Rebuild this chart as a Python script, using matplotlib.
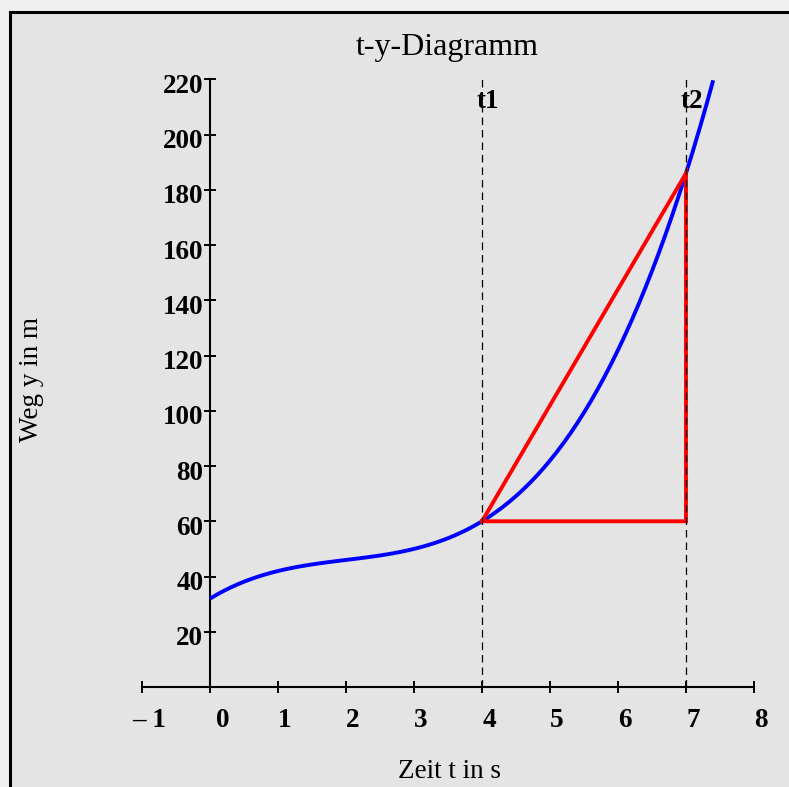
import matplotlib
matplotlib.use("Agg")
import matplotlib.pyplot as plt
import matplotlib.patches as mpatches
import matplotlib.transforms as mtransforms

# Weg-Zeit data of the moving body (t in s, y in m)
t_values = [0.0, 0.1, 0.2, 0.3, 0.4, 0.5, 0.6, 0.7, 0.8, 0.9,
            1.0, 1.1, 1.2, 1.3, 1.4, 1.5, 1.6, 1.7, 1.8, 1.9,
            2.0, 2.1, 2.2, 2.3, 2.4, 2.5, 2.6, 2.7, 2.8, 2.9,
            3.0, 3.1, 3.2, 3.3, 3.4, 3.5, 3.6, 3.7, 3.8, 3.9,
            4.0, 4.1, 4.2, 4.3, 4.4, 4.5, 4.6, 4.7, 4.8, 4.9,
            5.0, 5.1, 5.2, 5.3, 5.4, 5.5, 5.6, 5.7, 5.8, 5.9,
            6.0, 6.1, 6.2, 6.3, 6.4, 6.5, 6.6, 6.7, 6.8, 6.9,
            7.0, 7.1, 7.2, 7.3, 7.4]
y_values = [32.000, 33.441, 34.768, 35.987, 37.104, 38.125, 39.056, 39.903, 40.672, 41.369,
            42.000, 42.571, 43.088, 43.557, 43.984, 44.375, 44.736, 45.073, 45.392, 45.699,
            46.000, 46.301, 46.608, 46.927, 47.264, 47.625, 48.016, 48.443, 48.912, 49.429,
            50.000, 50.631, 51.328, 52.097, 52.944, 53.875, 54.896, 56.013, 57.232, 58.559,
            60.000, 61.561, 63.248, 65.067, 67.024, 69.125, 71.376, 73.783, 76.352, 79.089,
            82.000, 85.091, 88.368, 91.837, 95.504, 99.375, 103.456, 107.753, 112.272, 117.019,
            122.000, 127.221, 132.688, 138.407, 144.384, 150.625, 157.136, 163.923, 170.992, 178.349,
            186.000, 193.951, 202.208, 210.777, 219.664]

# Secant triangle between t1 and t2
t1, y1 = 4.0, 60.0
t2, y2 = 7.0, 186.0
marker_labels = ["t1", "t2"]

x_ticks = [-1, 0, 1, 2, 3, 4, 5, 6, 7, 8]
x_ticklabels = ["\u2013 1", "0", "1", "2", "3", "4", "5", "6", "7", "8"]
y_ticks = [20, 40, 60, 80, 100, 120, 140, 160, 180, 200, 220]

W, H = 789, 787
fig = plt.figure(figsize=(W / 100, H / 100), dpi=100, facecolor="#f0f0f0")
serif = ["Liberation Serif", "DejaVu Serif"]

# grey panel with black frame
frame = mpatches.Rectangle((9.5 / W, -0.05), 1.2, (H - 12) / H + 0.05,
                           transform=fig.transFigure, facecolor="#e4e4e4",
                           edgecolor="black", linewidth=2.2, zorder=0)
fig.add_artist(frame)

ax = fig.add_axes([0, 0, 1, 1])
ax.set_facecolor("none")
px_per_t = 68.0
px_per_y = 2.762
ax.set_xlim(-210 / px_per_t, (W - 210) / px_per_t)
ax.set_ylim((687 - H) / px_per_y, 687 / px_per_y)

for side in ("top", "right"):
    ax.spines[side].set_visible(False)
ax.spines["left"].set_position(("data", 0))
ax.spines["bottom"].set_position(("data", 0))
ax.spines["left"].set_bounds(0, 220)
ax.spines["bottom"].set_bounds(-1, 8)
for side in ("left", "bottom"):
    ax.spines[side].set_linewidth(1.5)

ax.set_xticks(x_ticks)
ax.set_xticklabels(x_ticklabels)
ax.set_yticks(y_ticks)
ax.set_yticklabels([str(v) for v in y_ticks])
ax.tick_params(axis="both", direction="inout", length=8.6, width=1.4,
               labelsize=19.5)
ax.tick_params(axis="x", pad=10.5)
ax.tick_params(axis="y", pad=0.5)

for lab in ax.get_xticklabels() + ax.get_yticklabels():
    lab.set_fontfamily(serif)
    lab.set_fontweight("bold")

# shift the tick labels slightly
for lab, val in zip(ax.get_xticklabels(), x_ticks):
    dx = 13 if val == 0 else 7
    lab.set_transform(lab.get_transform() +
                      mtransforms.ScaledTranslation(dx / 100, 0, fig.dpi_scale_trans))
for lab in ax.get_yticklabels():
    lab.set_transform(lab.get_transform() +
                      mtransforms.ScaledTranslation(0, -4 / 100, fig.dpi_scale_trans))

# curve
ax.plot(t_values, y_values, color="#0000ff", lw=2.8, zorder=3,
        solid_capstyle="butt")

# secant triangle
ax.plot([t1, t2, t2, t1], [y1, y2, y1, y1], color="#ff0000", lw=2.8,
        zorder=4, solid_joinstyle="miter")

# vertical marker lines
for tm, lab in zip([t1, t2], marker_labels):
    ax.plot([tm, tm], [0, 220], color="black", lw=0.9, ls=(0, (6, 4)), zorder=5)
    ax.text(tm + 0.08, 212, lab, ha="center", va="center", fontsize=19.5,
            fontweight="bold", family=serif, zorder=6)

fig.text(447 / W, 1 - 47 / H, "t-y-Diagramm", ha="center", va="center",
         fontsize=23, family=serif)
fig.text(449 / W, 1 - 772 / H, "Zeit t in s", ha="center", va="center",
         fontsize=19.5, family=serif)
fig.text(31 / W, 1 - 380 / H, "Weg y in m", ha="center", va="center",
         rotation=90, fontsize=19.5, family=serif)

fig.savefig("out.png", dpi=100, facecolor=fig.get_facecolor())
